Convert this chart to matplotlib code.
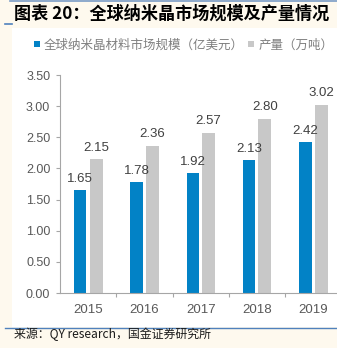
import matplotlib
matplotlib.use("Agg")
import matplotlib.pyplot as plt
from matplotlib.patches import Rectangle, Patch
from matplotlib.lines import Line2D
import numpy as np

years = ["2015", "2016", "2017", "2018", "2019"]
market_size = [1.65, 1.78, 1.92, 2.13, 2.42]
production = [2.15, 2.36, 2.57, 2.80, 3.02]
series_labels = ["全球纳米晶材料市场规模（亿美元）", "产量（万吨）"]
title = "图表 20：全球纳米晶市场规模及产量情况"
source = "来源：QY research，国金证券研究所"
yticks = [0.0, 0.5, 1.0, 1.5, 2.0, 2.5, 3.0, 3.5]

plt.rcParams['font.family'] = ['Liberation Sans', 'Noto Sans CJK SC']
CJK = ['Noto Sans CJK SC', 'DejaVu Sans']

W, H = 337, 348
fig = plt.figure(figsize=(W / 100, H / 100), dpi=100)
fig.patch.set_facecolor('#FEF9EE')

# white panel
fig.patches.append(Rectangle((12 / W, 1 - 327 / H), 1 - 12 / W, (327 - 28) / H,
                             transform=fig.transFigure, facecolor='white',
                             edgecolor='none', zorder=-2))
# decorative lines
fig.add_artist(Line2D([10 / W, 1], [1 - 1 / H, 1 - 1 / H], transform=fig.transFigure,
                      color='#7A9CC6', lw=1.2))
fig.add_artist(Line2D([5 / W, 12 / W], [1 - 24 / H, 1 - 24 / H], transform=fig.transFigure,
                      color='#4F81BD', lw=1.2))
fig.add_artist(Line2D([5 / W, 1], [1 - 327.5 / H, 1 - 327.5 / H], transform=fig.transFigure,
                      color='#4F81BD', lw=1.0))

fig.text(14 / W, 1 - 14 / H, title, fontsize=12.3, fontweight='bold', family=CJK,
         ha='left', va='center', color='black')
fig.text(14 / W, 1 - 334 / H, source, fontsize=8.6, family=CJK,
         ha='left', va='center', color='#1a1a1a')

ax = fig.add_axes([60 / W, 1 - 293 / H, 1 - 60 / W, (293 - 75) / H])
ax.set_facecolor('none')

x = np.arange(len(years))
blue = '#0282C6'
grey = '#C8C8C8'
b1 = ax.bar(x - 0.14, market_size, width=0.22, color=blue, zorder=2)
b2 = ax.bar(x + 0.14, production, width=0.23, color=grey, zorder=2)
ax.bar_label(b1, fmt='%.2f', padding=4, fontsize=9.5, color='#404040')
ax.bar_label(b2, fmt='%.2f', padding=4, fontsize=9.5, color='#404040')

ax.set_xlim(-0.5, 4.42)
ax.set_ylim(0, 3.5)
ax.set_yticks(yticks)
ax.set_yticklabels([f"{v:.2f}" for v in yticks])
ax.set_xticks(x)
ax.set_xticklabels(years)
ax.set_xticks(np.arange(0.5, 4.0, 1.0), minor=True)

spine_c = '#A6A6A6'
for s in ['top', 'right']:
    ax.spines[s].set_visible(False)
for s in ['left', 'bottom']:
    ax.spines[s].set_color(spine_c)
    ax.spines[s].set_linewidth(0.8)
ax.tick_params(axis='x', which='major', length=0, pad=8, labelsize=9.5, labelcolor='#595959')
ax.tick_params(axis='x', which='minor', length=3, color=spine_c, width=0.8)
ax.tick_params(axis='y', length=3, color=spine_c, width=0.8, labelsize=9, labelcolor='#595959', pad=4)

handles = [Patch(facecolor=blue), Patch(facecolor=grey)]
fig.legend(handles, series_labels, loc='center left', bbox_to_anchor=(34 / W, 1 - 45 / H),
           ncol=2, frameon=False, handlelength=0.45, handleheight=0.45,
           handletextpad=0.35, columnspacing=0.35, borderpad=0, borderaxespad=0,
           prop={'family': CJK, 'size': 9.0}, labelcolor='#7F7F7F')

fig.savefig('out.png', dpi=100, facecolor=fig.get_facecolor())
